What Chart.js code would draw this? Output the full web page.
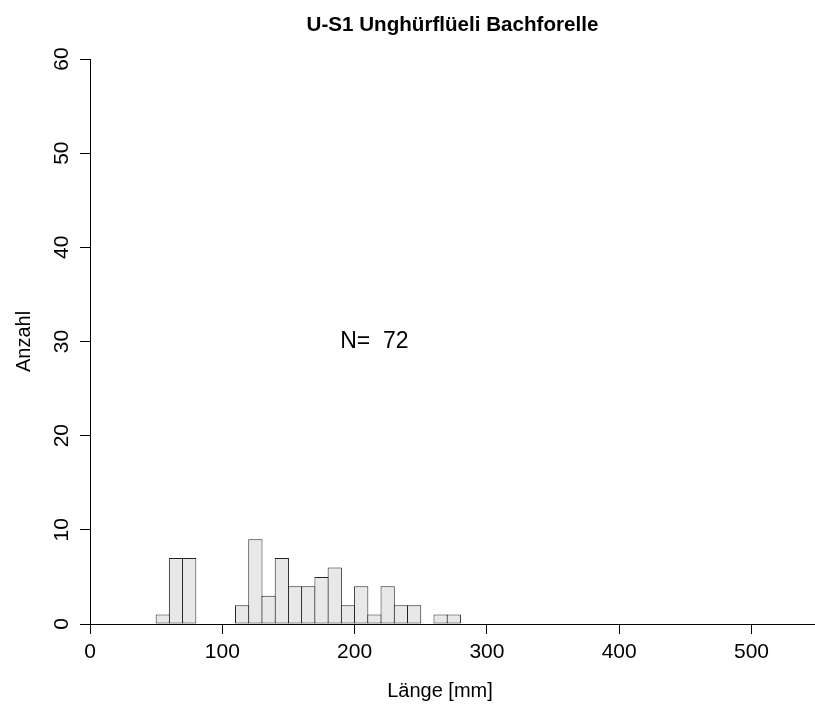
<!DOCTYPE html>
<html>
<head>
<meta charset="utf-8">
<title>U-S1 Unghürflüeli Bachforelle</title>
<script src="https://cdn.jsdelivr.net/npm/chart.js@4"></script>
<style>
  html, body { margin: 0; padding: 0; background: #fff; }
  #wrap { width: 815px; height: 706px; }
</style>
</head>
<body>
<div id="wrap"><canvas id="hist"></canvas></div>
<script>
// Längenklassen (Untergrenze, 10 mm breit) und Anzahl Fische pro Klasse
const binStarts = [50, 60, 70, 80, 90, 100, 110, 120, 130, 140, 150, 160, 170, 180, 190, 200, 210, 220, 230, 240, 250, 260, 270];
const counts    = [ 1,  7,  7,  0,  0,   0,   2,   9,   3,   7,   4,   4,   5,   6,   2,   4,   1,   4,   2,   2,   0,   1,   1];
const binWidth = 10;

const xTicks = [0, 100, 200, 300, 400, 500];
const yTicks = [0, 10, 20, 30, 40, 50, 60];

const titleText = 'U-S1 Unghürflüeli Bachforelle';
const xLabel = 'Länge [mm]';
const yLabel = 'Anzahl';

// N = Summe aller Klassen
const total = counts.reduce((a, b) => a + b, 0);

const FONT = '"Liberation Sans", Arial, Helvetica, sans-serif';

// Texte im R-Stil: Titel, gedrehte y-Beschriftung, Achsentitel, N
const rText = {
    id: 'rText',
    afterDraw(chart) {
        const ctx = chart.ctx;
        const area = chart.chartArea;
        const xs = chart.scales.x;
        const ys = chart.scales.y;
        ctx.save();
        ctx.fillStyle = '#000';

        ctx.font = 'bold 20.6px ' + FONT;
        ctx.textAlign = 'center';
        ctx.textBaseline = 'alphabetic';
        ctx.fillText(titleText, (area.left + area.right) / 2, 31);

        ctx.font = '21px ' + FONT;
        yTicks.forEach(v => {
            ctx.save();
            ctx.translate(68, ys.getPixelForValue(v));
            ctx.rotate(-Math.PI / 2);
            ctx.fillText(String(v), 0, 0);
            ctx.restore();
        });

        ctx.font = '20px ' + FONT;
        ctx.save();
        ctx.translate(30, (area.top + area.bottom) / 2);
        ctx.rotate(-Math.PI / 2);
        ctx.fillText(yLabel, 0, 0);
        ctx.restore();

        ctx.fillText(xLabel, 440, 697);

        ctx.font = '23px ' + FONT;
        ctx.textBaseline = 'middle';
        ctx.fillText('N=  ' + total, xs.getPixelForValue(215), ys.getPixelForValue(30));
        ctx.restore();
    }
};

new Chart(document.getElementById('hist'), {
    type: 'bar',
    data: {
        datasets: [{
            data: binStarts.map((b, i) => ({ x: b + binWidth / 2, y: counts[i] })),
            backgroundColor: '#e8e8e8',
            borderColor: '#222',
            borderWidth: 1,
            borderSkipped: false,
            barPercentage: 1.076,
            categoryPercentage: 1
        }]
    },
    options: {
        responsive: true,
        maintainAspectRatio: false,
        animation: false,
        layout: { padding: { top: 59, left: 0, right: 0, bottom: 0 } },
        plugins: {
            legend: { display: false },
            tooltip: { enabled: false },
            title: { display: false }
        },
        scales: {
            x: {
                type: 'linear',
                offset: false,
                min: 0,
                max: 548,
                afterFit: s => { s.height = 82; },
                afterBuildTicks: s => { s.ticks = xTicks.map(v => ({ value: v })); },
                ticks: {
                    includeBounds: false,
                    color: '#000',
                    padding: 6,
                    font: { family: FONT, size: 21 }
                },
                grid: {
                    offset: false,
                    drawOnChartArea: false,
                    drawTicks: true,
                    tickLength: 10,
                    color: '#000'
                },
                border: { display: true, color: '#000', width: 1 }
            },
            y: {
                min: 0,
                max: 60,
                afterFit: s => { s.width = 90; },
                afterBuildTicks: s => { s.ticks = yTicks.map(v => ({ value: v })); },
                ticks: { display: false },
                grid: {
                    drawOnChartArea: false,
                    drawTicks: true,
                    tickLength: 10,
                    color: '#000'
                },
                border: { display: true, color: '#000', width: 1 }
            }
        }
    },
    plugins: [rText]
});
</script>
</body>
</html>
